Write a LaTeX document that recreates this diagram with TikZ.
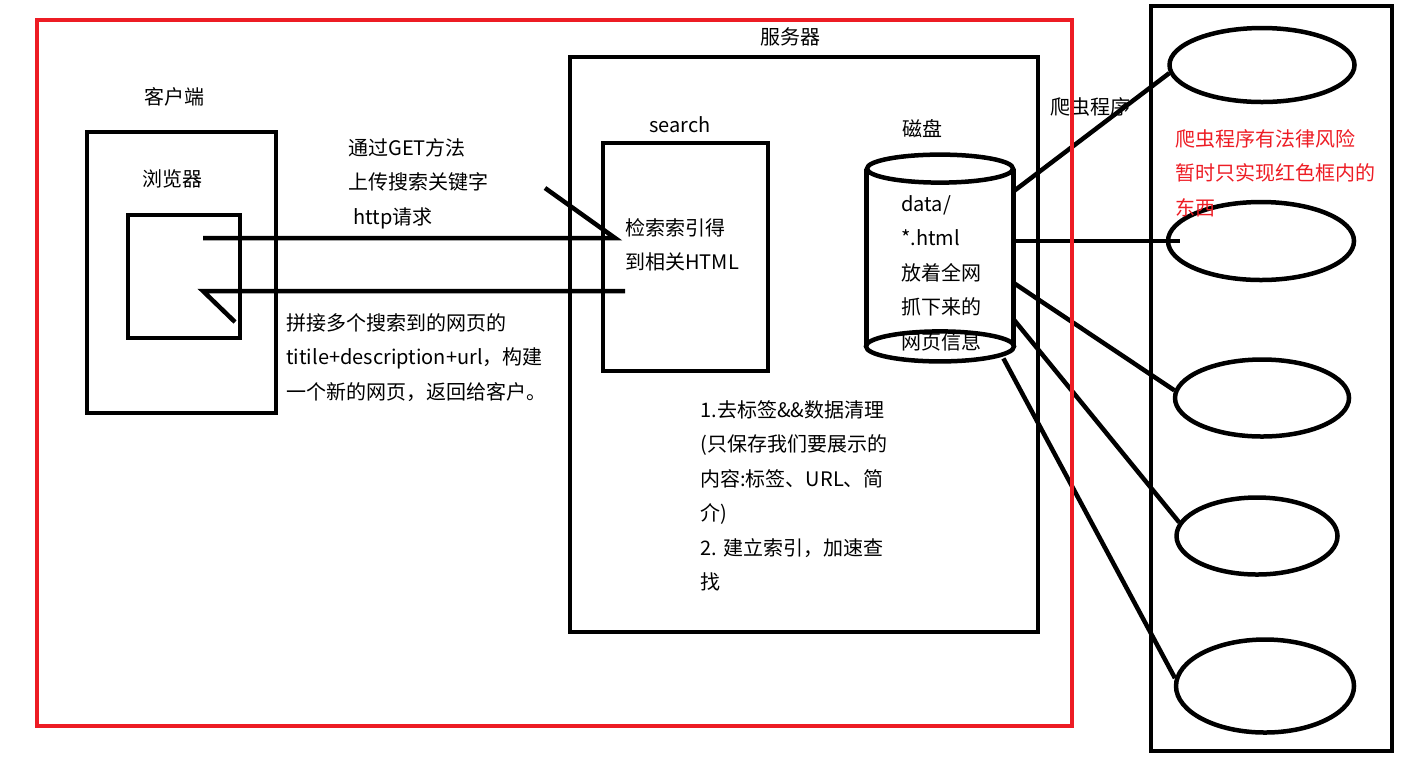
\documentclass[tikz,border=0pt]{standalone}
\usepackage{fontspec}
\setmainfont{Noto Sans CJK SC}
\usetikzlibrary{fit,shapes.geometric}
\definecolor{paintred}{HTML}{ED1C24}
\definecolor{inkblack}{HTML}{000000}
\tikzset{
  outline/.style={
    rectangle,
    inner sep=0pt,
    line width=2.25pt,
    draw=inkblack,
  },
  scope outline/.style={
    outline,
    draw=paintred,
  },
  page/.style={
    ellipse,
    inner sep=0pt,
    line width=2.25pt,
    draw=inkblack,
  },
  wire/.style={
    draw=inkblack,
    line width=2.25pt,
  },
  caption/.style={
    inner sep=0pt,
    text=inkblack,
    font=\fontsize{10pt}{17.25pt}\selectfont,
  },
  note/.style={
    caption,
    anchor=north west,
    align=left,
  },
  red note/.style={
    note,
    text=paintred,
  },
}

\begin{document}
\begin{tikzpicture}[x=0.5pt,y=-0.5pt]
  \useasboundingbox (0,0) rectangle (1422,768);

  % Client side.
  \node[outline, fit={(87,132) (276,413)}] (client) {};
  \node[outline, fit={(128,215) (240,338)}] (browser) {};
  \node[caption] (clientlabel) at (174,97) {客户端};
  \node[caption] (browserlabel) at (172,179) {浏览器};

  % Server with search module and disk.
  \node[outline, fit={(570,57) (1038,632)}] (server) {};
  \node[outline, fit={(603,143) (768,371)}] (search) {};
  \node[caption] (serverlabel) at (790,37) {服务器};
  \node[caption] (searchlabel) at (680,125) {search};
  \node[caption] (disklabel) at (922,129) {磁盘};
  \node[note] (searchtext) at (625,218) {检索索引得\\到相关HTML};

  \node[inner sep=0pt, fit={(867,169) (1013,346)}] (disk) {};
  \draw[wire] (disk.north west) -- (disk.south west)
              (disk.north east) -- (disk.south east);
  \draw[wire] (disk.north) ellipse [x radius=36.5pt, y radius=7pt];
  \draw[wire] (disk.south) ellipse [x radius=37pt, y radius=7.5pt];
  \node[note] (disktext) at (901,195)
    {data/\\*.html\\放着全网\\抓下来的\\网页信息};

  % Request and response between browser and search.
  \coordinate (reqtail) at (203,238);
  \coordinate (reqhead) at (615,238);
  \coordinate (resptail) at (625,291);
  \coordinate (resphead) at (203,291);
  \draw[wire] (reqtail) -- (reqhead) -- ++(-70,-50);
  \draw[wire] (resptail) -- (resphead) -- ++(32,31);

  \node[note] (getnote) at (348,138)
    {通过GET方法\\上传搜索关键字\\\hspace*{2.5pt}http请求};
  \node[note] (resultnote) at (286,313)
    {拼接多个搜索到的网页的\\titile+description+url，构建\\一个新的网页，返回给客户。};
  \node[note] (cleannote) at (700,400)
    {1.去标签\&\&数据清理\\(只保存我们要展示的\\内容:标签、URL、简\\介)\\2. 建立索引，加速查\\找};

  % Crawled web pages.
  \node[outline, fit={(1151,6) (1392,751)}] (crawl) {};
  \node[page, minimum width=92.5pt, minimum height=37pt] (page1) at (1262,65) {};
  \node[page, minimum width=93pt, minimum height=39pt] (page2) at (1261,241) {};
  \node[page, minimum width=87pt, minimum height=38.5pt] (page3) at (1262,398) {};
  \node[page, minimum width=80.5pt, minimum height=38.5pt] (page4) at (1257,536) {};
  \node[page, minimum width=89pt, minimum height=46.5pt] (page5) at (1265,686) {};

  \node[caption, anchor=west] (crawllabel) at (1050,107) {爬虫程序};
  \node[red note] (risknote) at (1175,129)
    {爬虫程序有法律风险\\暂时只实现红色框内的\\东西};

  % Crawler lines from the disk to each page.
  \foreach \from/\pnode/\to in {42/page1/185, -19/page3/175, -40/page4/170}{
    \draw[wire] (disk.\from) -- (\pnode.\to);
  }
  \draw[wire] (disk.east |- page2.west) -- ([xshift=7pt]page2.west);
  \draw[wire] ([xshift=-5pt,yshift=-6pt]disk.south east) -- (page5.175);

  % Part that is implemented.
  \node[scope outline, fit={(37,20) (1072,726)}] (impl) {};
\end{tikzpicture}
\end{document}
